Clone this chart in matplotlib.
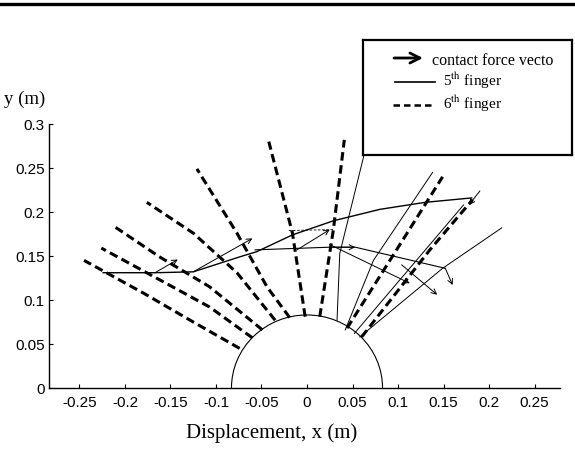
import matplotlib
matplotlib.use('Agg')
import matplotlib.pyplot as plt
from matplotlib.patches import Arc
from matplotlib.lines import Line2D

plt.rcParams['axes.unicode_minus'] = False
plt.rcParams['mathtext.fontset'] = 'stix'

# 6th finger links (dashed), points from the object surface outwards
finger6_x = [[-0.074, -0.125, -0.180, -0.245],
             [-0.060, -0.107, -0.162, -0.226],
             [-0.049, -0.107, -0.162, -0.211],
             [-0.035, -0.077, -0.125, -0.176],
             [-0.019, -0.044, -0.077, -0.121],
             [-0.002, -0.016, -0.042],
             [0.014, 0.029, 0.041],
             [0.044, 0.110, 0.149],
             [0.060, 0.135, 0.182]]
finger6_y = [[0.045, 0.075, 0.108, 0.145],
             [0.057, 0.092, 0.123, 0.159],
             [0.066, 0.115, 0.149, 0.183],
             [0.077, 0.131, 0.176, 0.211],
             [0.080, 0.115, 0.176, 0.249],
             [0.081, 0.176, 0.280],
             [0.081, 0.180, 0.282],
             [0.068, 0.176, 0.240],
             [0.058, 0.157, 0.214]]

# 5th finger links (thin solid)
finger5_x = [[0.033, 0.036, 0.062, 0.068],
             [0.042, 0.073, 0.138],
             [0.052, 0.172],
             [0.058, 0.149, 0.214]]
finger5_y = [[0.077, 0.153, 0.262, 0.300],
             [0.066, 0.145, 0.245],
             [0.062, 0.208],
             [0.058, 0.136, 0.182]]

# contact paths
path1_x = [-0.224, -0.167, -0.125, -0.074, -0.055, -0.016, 0.029, 0.08, 0.13, 0.181]
path1_y = [0.131, 0.131, 0.132, 0.149, 0.155, 0.174, 0.19, 0.203, 0.211, 0.216]
path2_x = [-0.057, 0.025, 0.053, 0.152]
path2_y = [0.157, 0.160, 0.160, 0.136]

# contact force vectors: start -> end
arrow_x0 = [-0.167, -0.125, -0.011, 0.025, 0.025, 0.104, 0.152, 0.190]
arrow_y0 = [0.131, 0.132, 0.157, 0.160, 0.163, 0.140, 0.136, 0.224]
arrow_x1 = [-0.142, -0.060, 0.025, 0.053, 0.113, 0.143, 0.160, 0.178]
arrow_y1 = [0.146, 0.170, 0.180, 0.160, 0.119, 0.106, 0.117, 0.208]

obj_radius = 0.083

xticks = [-0.25, -0.2, -0.15, -0.1, -0.05, 0, 0.05, 0.1, 0.15, 0.2, 0.25]
xlabels = ['-0.25', '-0.2', '-0.15', '-0.1', '-0.05', '0', '0.05', '0.1', '0.15', '0.2', '0.25']
yticks = [0, 0.05, 0.1, 0.15, 0.2, 0.25, 0.3]
ylabels = ['0', '0.05', '0.1', '0.15', '0.2', '0.25', '0.3']

W, H = 575, 449
fig = plt.figure(figsize=(W / 100, H / 100), dpi=100)
ax = fig.add_axes([49 / W, 61 / H, 511 / W, 264 / H])

for xs, ys in zip(finger6_x, finger6_y):
    ax.plot(xs, ys, color='black', lw=2.2, linestyle=(0, (2.8, 1.5)))
for xs, ys in zip(finger5_x, finger5_y):
    ax.plot(xs, ys, color='black', lw=0.7)
ax.plot(path1_x, path1_y, color='black', lw=1.0)
ax.plot(path2_x, path2_y, color='black', lw=0.8)
ax.plot([-0.020, 0.030], [0.179, 0.180], color='black', lw=0.6, linestyle=(0, (3, 2)))

for x0, y0, x1, y1 in zip(arrow_x0, arrow_y0, arrow_x1, arrow_y1):
    ax.annotate('', xy=(x1, y1), xytext=(x0, y0),
                arrowprops=dict(arrowstyle='->', lw=0.7, color='black',
                                shrinkA=0, shrinkB=0, mutation_scale=9))

ax.add_patch(Arc((0, 0), 2 * obj_radius, 2 * obj_radius, theta1=0, theta2=180,
                 color='black', lw=0.8))

ax.set_xlim(-0.2835, 0.278)
ax.set_ylim(0, 0.3)
ax.spines['top'].set_visible(False)
ax.spines['right'].set_visible(False)
ax.spines['left'].set_linewidth(1.0)
ax.spines['bottom'].set_linewidth(1.0)
ax.set_xticks(xticks)
ax.set_xticklabels(xlabels)
ax.set_yticks(yticks)
ax.set_yticklabels(ylabels)
ax.tick_params(direction='in', length=3, width=0.8, labelsize=11)
ax.tick_params(axis='x', pad=6)
ax.tick_params(axis='y', pad=3)
for lab in ax.get_xticklabels() + ax.get_yticklabels():
    lab.set_family('Liberation Sans')

fig.text(185 / W + 173 / W / 2, 1 - 433 / H, 'Displacement, x (m)', ha='center', va='center',
         family='Liberation Serif', fontsize=15)
fig.text(4 / W, 1 - 99 / H, 'y (m)', ha='left', va='center',
         family='Liberation Serif', fontsize=13.5)

# scanned page border line at top
fig.add_artist(Line2D([0, 1], [1 - 4 / H, 1 - 4 / H], color='black', lw=2.4,
                      transform=fig.transFigure))

# legend box drawn by hand (it runs off the right edge)
lg = fig.add_axes([363 / W, 1 - 155 / H, 209 / W, 115 / H], zorder=5)
lg.set_xlim(0, 209)
lg.set_ylim(115, 0)
lg.set_xticks([])
lg.set_yticks([])
lg.set_facecolor('white')
for s in lg.spines.values():
    s.set_linewidth(1.6)
lg.annotate('', xy=(60, 18), xytext=(31, 18),
            arrowprops=dict(arrowstyle='->', lw=2.0, color='black',
                            shrinkA=0, shrinkB=0, mutation_scale=18))
lg.text(69, 21, 'contact force vecto', family='Liberation Serif', fontsize=11.5,
        va='center', ha='left', clip_on=True)
lg.plot([32, 72], [42, 42], color='black', lw=1.2)
lg.text(80, 41, '5$^{\\mathrm{th}}$ finger', family='Liberation Serif', fontsize=11,
        va='center', ha='left')
lg.plot([30, 72], [65, 65], color='black', lw=1.8, linestyle=(0, (2.6, 1.6)))
lg.text(80, 64, '6$^{\\mathrm{th}}$ finger', family='Liberation Serif', fontsize=11,
        va='center', ha='left')

fig.savefig('out.png', dpi=100)
